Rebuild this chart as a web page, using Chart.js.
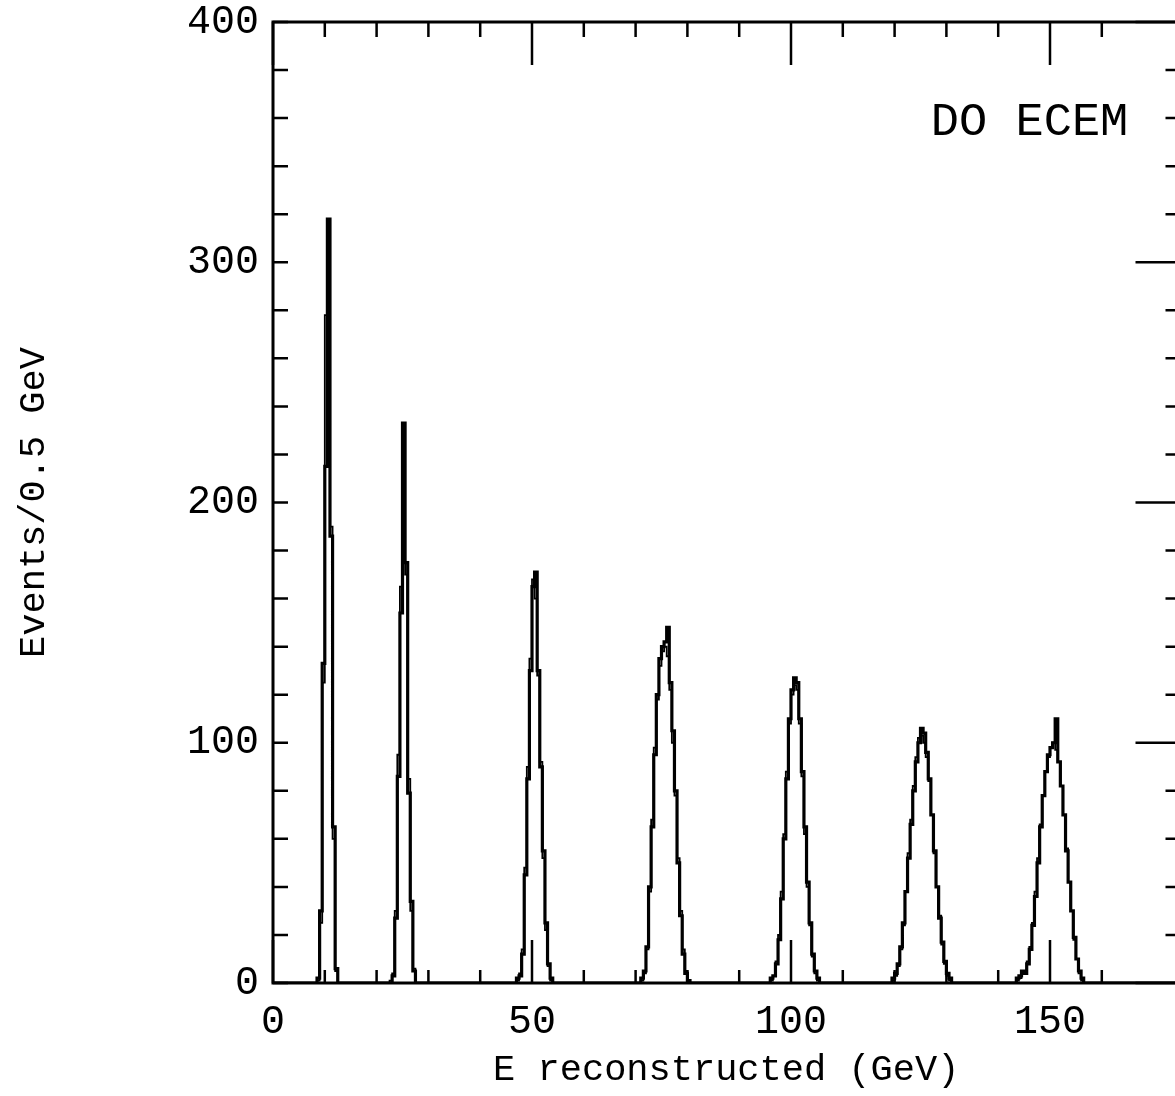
<!DOCTYPE html>
<html>
<head>
<meta charset="utf-8">
<title>D0 ECEM energy response</title>
<script src="https://cdn.jsdelivr.net/npm/chart.js@4.4.1/dist/chart.umd.min.js"></script>
<style>
  html, body { margin: 0; padding: 0; background: #fff; overflow: hidden; }
  #wrap { width: 1185px; height: 1096px; }
</style>
</head>
<body>
<div id="wrap"><canvas id="ecemChart" width="1185" height="1096"></canvas></div>
<script>
// binning and axis labels
const binWidth = 0.5;
const xMax = 175;
const xTickLabels = [0, 50, 100, 150];
const yTickLabels = [0, 100, 200, 300, 400];

// beam energies and the low edge of the first filled bin around each peak
const beamEnergies = [10, 25, 50, 75, 100, 125, 150];
const firstBinEdge = [8.5, 22.5, 47, 71, 96, 119.5, 143.5];

// test beam data, events per 0.5 GeV bin (thick line)
const data10  = [2, 30, 133, 215, 318, 186, 65, 6];
const data25  = [0, 3, 27, 86, 154, 233, 175, 79, 34, 5];
const data50  = [2, 3, 12, 45, 85, 130, 165, 171, 130, 90, 55, 25, 8, 2];
const data75  = [2, 5, 15, 40, 65, 95, 120, 135, 140, 142, 148, 125, 105, 80, 50, 28, 12, 4, 1];
const data100 = [2, 3, 8, 18, 35, 60, 85, 110, 122, 127, 125, 110, 88, 65, 42, 25, 12, 5, 2];
const data125 = [2, 4, 8, 15, 25, 38, 52, 66, 80, 92, 100, 106, 104, 96, 85, 70, 55, 40, 27, 17, 9, 4, 2];
const data150 = [2, 3, 5, 4, 8, 14, 24, 36, 50, 65, 78, 88, 95, 98, 100, 110, 92, 82, 70, 55, 42, 30, 19, 10, 5, 2];

// simulation, same binning (thin line)
const mc10  = [1, 25, 125, 278, 300, 190, 60, 5];
const mc25  = [1, 4, 30, 95, 165, 225, 170, 85, 30, 6];
const mc50  = [1, 4, 14, 48, 90, 135, 168, 160, 128, 92, 52, 22, 7, 1];
const mc75  = [1, 4, 14, 38, 68, 98, 118, 132, 138, 140, 136, 122, 100, 78, 52, 30, 14, 5, 1];
const mc100 = [1, 3, 9, 20, 38, 62, 88, 108, 120, 124, 122, 108, 86, 62, 40, 24, 11, 4, 1];
const mc125 = [1, 3, 7, 14, 24, 38, 54, 68, 82, 94, 102, 103, 100, 94, 84, 70, 54, 40, 28, 16, 8, 3, 1];
const mc150 = [1, 2, 4, 5, 9, 15, 25, 38, 52, 66, 78, 88, 94, 98, 100, 97, 92, 82, 70, 56, 42, 30, 18, 10, 4, 1];

const dataPeaks = [data10, data25, data50, data75, data100, data125, data150];
const mcPeaks = [mc10, mc25, mc50, mc75, mc100, mc125, mc150];

// spread the peaks over the full 0-175 GeV range, one point per low bin edge
function buildHistogram(peaks) {
  const nBins = Math.round(xMax / binWidth);
  const counts = new Array(nBins).fill(0);
  peaks.forEach(function (peak, p) {
    const start = Math.round(firstBinEdge[p] / binWidth);
    peak.forEach(function (c, i) {
      counts[start + i] = c;
    });
  });
  const points = counts.map(function (c, i) {
    return { x: i * binWidth, y: c };
  });
  points.push({ x: xMax, y: 0 });
  return points;
}

// frame with inward ticks on all four sides, plus the detector label
const frameTicks = {
  id: "frameTicks",
  afterDatasetsDraw(chart) {
    const { ctx, chartArea: a, scales } = chart;
    const x = scales.x, y = scales.y;
    ctx.save();
    ctx.strokeStyle = "#000";
    ctx.lineWidth = 2.5;
    ctx.beginPath();
    x.ticks.forEach(function (t) {
      if (t.value % 10 !== 0) return;
      const px = x.getPixelForValue(t.value);
      const major = xTickLabels.includes(t.value);
      ctx.moveTo(px, a.top);
      ctx.lineTo(px, a.top + (major ? 43 : 15));
      ctx.moveTo(px, a.bottom);
      ctx.lineTo(px, a.bottom - (major ? 43 : 13));
    });
    y.ticks.forEach(function (t) {
      const py = y.getPixelForValue(t.value);
      const major = yTickLabels.includes(t.value);
      ctx.moveTo(a.left, py);
      ctx.lineTo(a.left + 15, py);
      ctx.moveTo(a.right, py);
      ctx.lineTo(a.right - (major ? 44 : 14), py);
    });
    ctx.stroke();
    ctx.lineWidth = 3;
    ctx.strokeRect(a.left, a.top, a.right - a.left, a.bottom - a.top);

    ctx.fillStyle = "#000";
    ctx.font = '47px "Liberation Mono"';
    ctx.textAlign = "left";
    ctx.textBaseline = "alphabetic";
    ctx.fillText("DO ECEM", x.getPixelForValue(127), y.getPixelForValue(353));
    ctx.restore();
  },
};

Chart.defaults.font.family = '"Liberation Mono", monospace';
Chart.defaults.color = "#000";

const ctx = document.getElementById("ecemChart");
new Chart(ctx, {
  type: "line",
  data: {
    datasets: [
      {
        label: "data",
        data: buildHistogram(dataPeaks),
        borderColor: "#000",
        borderWidth: 3.2,
        stepped: "before",
        pointRadius: 0,
        fill: false,
      },
      {
        label: "simulation",
        data: buildHistogram(mcPeaks),
        borderColor: "#000",
        borderWidth: 1.8,
        stepped: "before",
        pointRadius: 0,
        fill: false,
      },
    ],
  },
  options: {
    responsive: false,
    animation: false,
    devicePixelRatio: 1,
    layout: { padding: { top: 22, right: 5.5, left: 0, bottom: 0 } },
    plugins: {
      legend: { display: false },
      tooltip: { enabled: false },
    },
    scales: {
      x: {
        type: "linear",
        min: 0,
        max: xMax,
        grid: { display: false, drawTicks: false },
        border: { display: false },
        ticks: {
          stepSize: 10,
          autoSkip: false,
          maxRotation: 0,
          padding: 15,
          font: { size: 40 },
          callback: function (v) {
            return xTickLabels.includes(v) ? String(v) : "";
          },
        },
        title: {
          display: true,
          text: "E reconstructed (GeV)",
          font: { size: 37 },
          padding: { top: 0, bottom: 4 },
        },
        afterFit: function (scale) {
          scale.height = 113;
          scale.paddingLeft = 0;
          scale.paddingRight = 0;
        },
      },
      y: {
        min: 0,
        max: 400,
        grid: { display: false, drawTicks: false },
        border: { display: false },
        ticks: {
          stepSize: 20,
          autoSkip: false,
          padding: 14,
          font: { size: 40 },
          callback: function (v) {
            return yTickLabels.includes(v) ? String(v) : "";
          },
        },
        title: {
          display: true,
          text: "Events/0.5 GeV",
          font: { size: 37 },
          padding: { top: 12, bottom: 0 },
        },
        afterFit: function (scale) {
          scale.width = 273;
          scale.paddingTop = 0;
          scale.paddingBottom = 0;
        },
      },
    },
  },
  plugins: [frameTicks],
});
</script>
</body>
</html>
